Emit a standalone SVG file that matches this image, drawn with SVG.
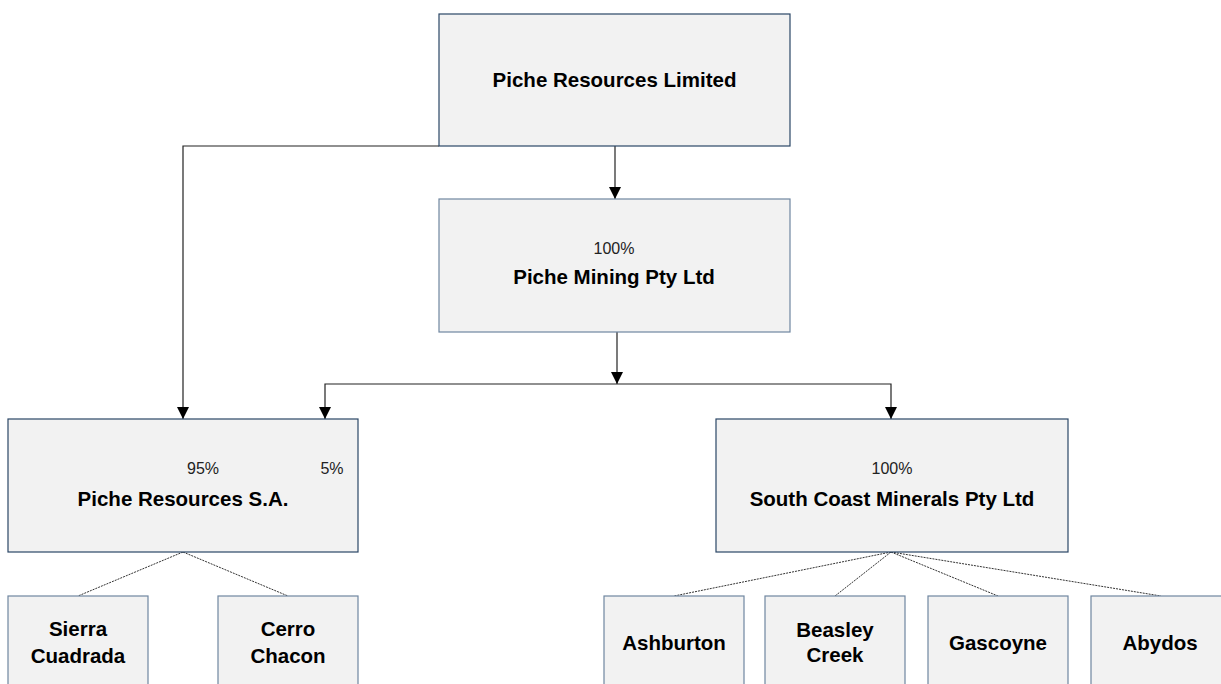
<svg xmlns="http://www.w3.org/2000/svg" width="1221" height="684" viewBox="0 0 1221 684">
<defs>
<marker id="arr" markerUnits="userSpaceOnUse" markerWidth="12" markerHeight="12" refX="12" refY="6" orient="auto">
<path d="M0,0 L12,6 L0,12 Z" fill="#000"/>
</marker>
<style>
.box{fill:#f2f2f2;stroke:#2a4666;stroke-width:1.2}
.box2{fill:#f2f2f2;stroke:#6f86a0;stroke-width:1.2}
.t{font-family:"Liberation Sans",Arial,sans-serif;font-weight:bold;font-size:20.5px;fill:#000;text-anchor:middle}
.p{font-family:"Liberation Sans",Arial,sans-serif;font-size:16px;fill:#222;text-anchor:middle}
.c{fill:none;stroke:#222;stroke-width:1.2}
.d{fill:none;stroke:#333;stroke-width:1;stroke-dasharray:2,1}
</style>
</defs>
<rect width="1221" height="684" fill="#fff"/>
<g id="connectors">
<path class="c" d="M615,146 L615,199" marker-end="url(#arr)"/>
<path class="c" d="M439,146 L183,146 L183,419" marker-end="url(#arr)"/>
<path class="c" d="M617,332 L617,384" marker-end="url(#arr)"/>
<path class="c" d="M617,384 L325,384 L325,419" marker-end="url(#arr)"/>
<path class="c" d="M617,384 L891,384 L891,419" marker-end="url(#arr)"/>
<path class="d" d="M183,552 L78,596 M183,552 L288,596"/>
<path class="d" d="M891,552 L674,596 M891,552 L835,596 M891,552 L998,596 M891,552 L1161,596"/>
</g>
<g id="n-prl">
<rect class="box" x="439" y="14" width="351" height="132"/>
<text class="t" x="614.5" y="87">Piche Resources Limited</text>
</g>
<g id="n-pm">
<rect class="box2" x="439" y="199" width="351" height="133"/>
<text class="p" x="614" y="254">100%</text>
<text class="t" x="614" y="284">Piche Mining Pty Ltd</text>
</g>
<g id="n-prsa">
<rect class="box" x="8" y="419" width="350" height="133"/>
<text class="p" x="203" y="474">95%</text>
<text class="p" x="332" y="474">5%</text>
<text class="t" x="183" y="506">Piche Resources S.A.</text>
</g>
<g id="n-scm">
<rect class="box" x="716" y="419" width="352" height="133"/>
<text class="p" x="892" y="474">100%</text>
<text class="t" x="892" y="506">South Coast Minerals Pty Ltd</text>
</g>
<g id="n-sc">
<rect class="box2" x="8" y="596" width="140" height="100"/>
<text class="t" x="78" y="636">Sierra</text>
<text class="t" x="78" y="663">Cuadrada</text>
</g>
<g id="n-cc">
<rect class="box2" x="218" y="596" width="140" height="100"/>
<text class="t" x="288" y="636">Cerro</text>
<text class="t" x="288" y="663">Chacon</text>
</g>
<g id="n-ash">
<rect class="box2" x="604" y="596" width="140" height="100"/>
<text class="t" x="674" y="650">Ashburton</text>
</g>
<g id="n-bc">
<rect class="box2" x="765" y="596" width="140" height="100"/>
<text class="t" x="835" y="637">Beasley</text>
<text class="t" x="835" y="662">Creek</text>
</g>
<g id="n-gas">
<rect class="box2" x="928" y="596" width="140" height="100"/>
<text class="t" x="998" y="650">Gascoyne</text>
</g>
<g id="n-aby">
<rect class="box2" x="1091" y="596" width="140" height="100"/>
<text class="t" x="1160" y="650">Abydos</text>
</g>
</svg>
